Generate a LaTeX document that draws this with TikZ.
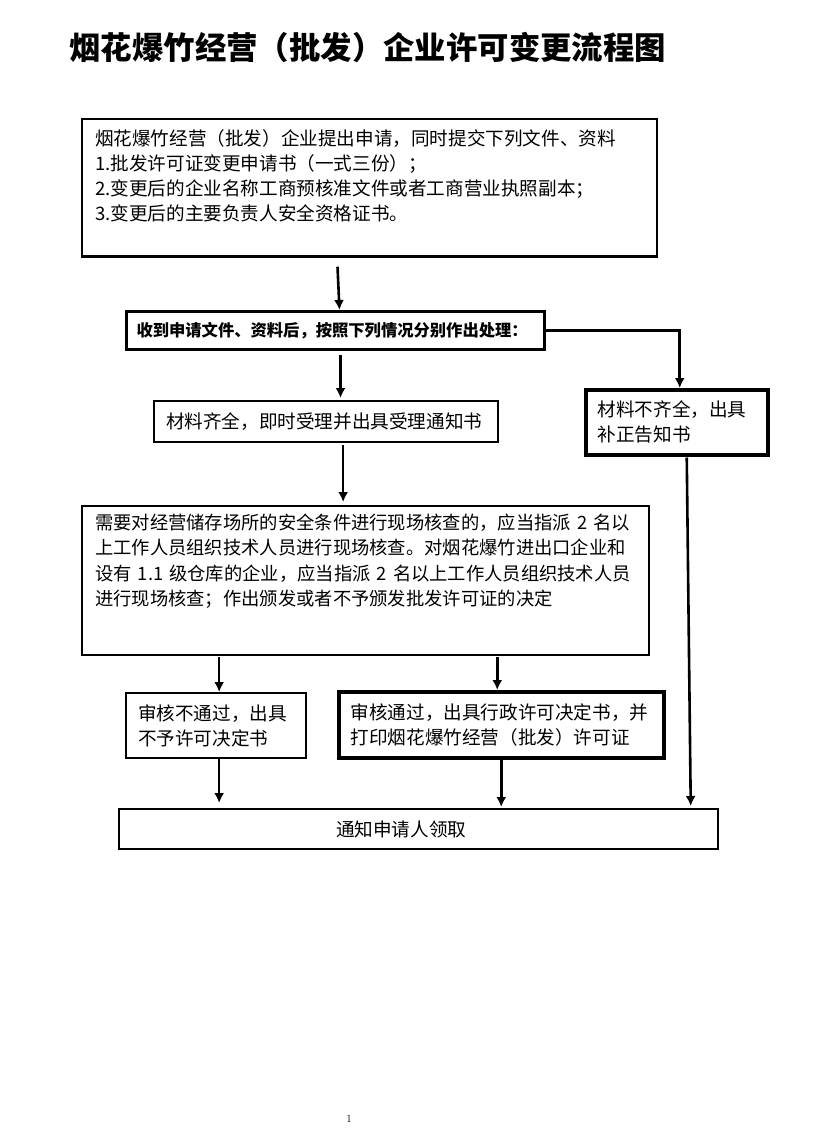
\documentclass[tikz,border=0pt]{standalone}
\usepackage{fontspec}
\newfontfamily\cjk{Noto Sans CJK SC}
\usetikzlibrary{arrows.meta,calc,positioning}

\begin{document}
\begin{tikzpicture}[x=1pt,y=-1pt,>={Latex[length=10pt,width=10pt]},
  box/.style={draw,line width=2.3pt,align=left,inner xsep=12pt,font=\cjk\fontsize{18.6}{25}\selectfont},
  thickbox/.style={box,line width=3.5pt},
  flow/.style={->,line width=2.6pt}]

\useasboundingbox (0,0) rectangle (819,1128);

\node[anchor=west,font=\cjk\fontsize{31.4}{34}\selectfont\bfseries] (title) at (66,47) {烟花爆竹经营（批发）企业许可变更流程图};

\node[box,anchor=north west,inner xsep=13pt,text width=549pt,inner ysep=10pt,text depth=101.5pt] (apply) at (81,118)
  {烟花爆竹经营（批发）企业提出申请，同时提交下列文件、资料\\
   1.批发许可证变更申请书（一式三份）；\\
   2.变更后的企业名称工商预核准文件或者工商营业执照副本；\\
   3.变更后的主要负责人安全资格证书。};
\node[box,line width=3pt,anchor=north west,inner xsep=10pt,text width=398pt,minimum height=38pt,font=\cjk\fontsize{16.3}{20}\selectfont\bfseries] (recv) at (125,310)
  {收到申请文件、资料后，按照下列情况分别作出处理：};
\node[box,anchor=north west,text width=320pt,minimum height=41pt] (full) at (153,400)
  {材料齐全，即时受理并出具受理通知书};
\node[thickbox,anchor=north west,text width=158pt,minimum height=65pt] (short) at (584,388)
  {材料不齐全，出具\\补正告知书};
\node[box,anchor=north west,inner xsep=13pt,text width=541pt,inner ysep=8pt,text depth=117.6pt,font=\cjk\fontsize{18.3}{25.2}\selectfont] (site) at (81,505)
  {需要对经营储存场所的安全条件进行现场核查的，应当指派 2 名以\\
   上工作人员组织技术人员进行现场核查。对烟花爆竹进出口企业和\\
   设有 1.1 级仓库的企业，应当指派 2 名以上工作人员组织技术人员\\
   进行现场核查；作出颁发或者不予颁发批发许可证的决定};
\node[box,anchor=north west,text width=156pt,minimum height=65pt] (deny) at (125,692)
  {审核不通过，出具\\不予许可决定书};
\node[thickbox,anchor=north west,text width=301pt,minimum height=66pt] (grant) at (337,690)
  {审核通过，出具行政许可决定书，并\\打印烟花爆竹经营（批发）许可证};
\node[box,anchor=north west,text width=575pt,minimum height=40pt] (notify) at (118,808)
  {\hspace*{205pt}通知申请人领取};

\node[font=\fontsize{11}{11}\selectfont] (page) at (349,1119) {1};

\draw[flow] (recv.east) -| ($(short.north)+(3,0)$);

\path[flow] ($(apply.south -| recv.north)+(2,9)$) edge ($(recv.north)+(4,0)$)
            ($(recv.south)+(5,4)$) edge ($(recv.south |- full.north)+(5,-2)$)
            ($(full.south)+(17,2)$) edge ($(full.south |- site.north)+(17,-3)$)
            ($(site.south -| deny.north)+(3,1)$) edge ($(deny.north)+(3,0)$)
            ($(site.south -| grant.north)+(-4,1)$) edge ($(grant.north)+(-4,0)$)
            ($(deny.south)+(3,0)$) edge ($(deny.south |- notify.north)+(3,-5)$)
            (grant.south) edge ($(grant.south |- notify.north)+(0,-1)$)
            ($(short.south)+(10,1)$) edge ($(short.south |- notify.north)+(14,-2)$);

\end{tikzpicture}
\end{document}
